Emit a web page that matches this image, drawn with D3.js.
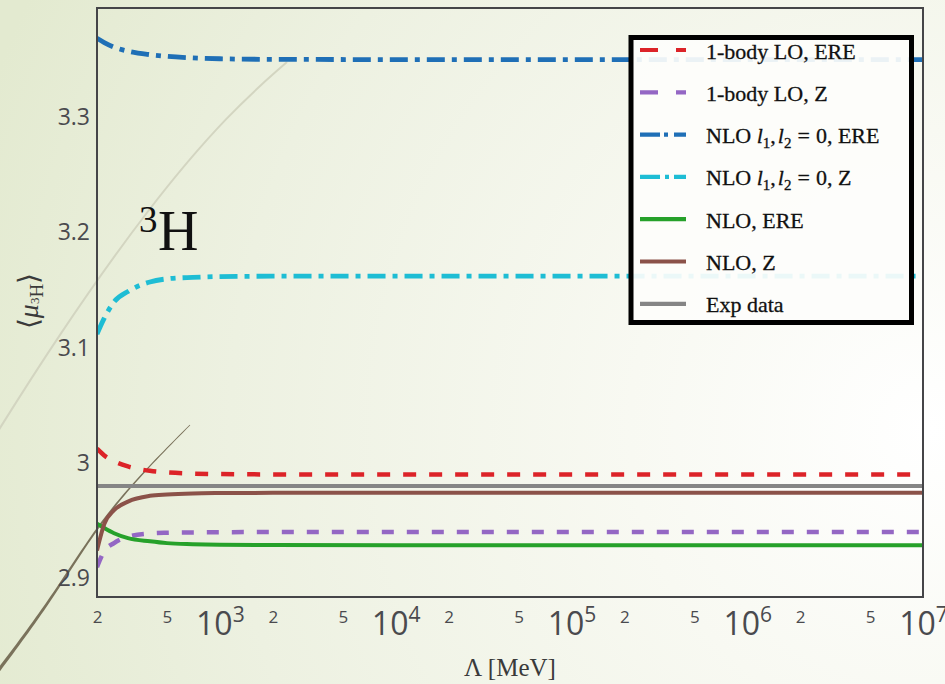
<!DOCTYPE html>
<html>
<head>
<meta charset="utf-8">
<script src="https://cdn.jsdelivr.net/npm/d3@7"></script>
<style>
  html, body { margin: 0; padding: 0; background: #f4f6ec; }
  svg { display: block; }
</style>
</head>
<body>
<svg id="chart" width="945" height="684"></svg>
<script>
// Cutoff values (MeV) at which each curve is sampled
const cutoffs = [200, 220, 250, 300, 400, 500, 700, 1000, 2000, 1e4, 1e5, 1e6, 1e7];

// Triton magnetic moment <mu_3H> for each approximation
const loERE    = [3.0115, 3.0055, 3.0005, 2.9960, 2.9922, 2.9908, 2.9898, 2.9894, 2.9891, 2.9890, 2.9890, 2.9890, 2.9890];
const loZ      = [2.9085, 2.9225, 2.9295, 2.9350, 2.9378, 2.9384, 2.9387, 2.9389, 2.9390, 2.9390, 2.9390, 2.9390, 2.9390];
const nloL0ERE = [3.3680, 3.3643, 3.3603, 3.3568, 3.3538, 3.3523, 3.3510, 3.3502, 3.3497, 3.3495, 3.3495, 3.3495, 3.3495];
const nloL0Z   = [3.1110, 3.1248, 3.1390, 3.1480, 3.1563, 3.1590, 3.1603, 3.1610, 3.1613, 3.1614, 3.1614, 3.1614, 3.1614];
const nloERE   = [2.9463, 2.9425, 2.9380, 2.9338, 2.9310, 2.9294, 2.9285, 2.9280, 2.9277, 2.9275, 2.9275, 2.9275, 2.9275];
const nloZ     = [2.9230, 2.9460, 2.9580, 2.9655, 2.9705, 2.9717, 2.9726, 2.9729, 2.9731, 2.9732, 2.9732, 2.9732, 2.9732];
const expData  = 2.979;

// Axis ranges and tick labels
const xDomain = [200, 1e7];
const yDomain = [2.8826, 3.3943];
const yTicks = [2.9, 3.0, 3.1, 3.2, 3.3];
const xMajorTicks = [1e3, 1e4, 1e5, 1e6, 1e7];
const xMinorTicks = [200, 500, 2e3, 5e3, 2e4, 5e4, 2e5, 5e5, 2e6, 5e6];

const seriesNames = ["1-body LO, ERE", "1-body LO, Z", "NLO l1,l2 = 0, ERE", "NLO l1,l2 = 0, Z", "NLO, ERE", "NLO, Z", "Exp data"];

const series = [
  { key: "loERE",    values: loERE,    color: "#dc2328", width: 4.5, dash: "13,13" },
  { key: "loZ",      values: loZ,      color: "#9467c4", width: 4.5, dash: "12,13" },
  { key: "nloL0ERE", values: nloL0ERE, color: "#1f6fb6", width: 4.8, dash: "18,7,5,7" },
  { key: "nloL0Z",   values: nloL0Z,   color: "#1ebdd4", width: 4.8, dash: "18,7,5,7" },
  { key: "nloERE",   values: nloERE,   color: "#26a12a", width: 4,   dash: null },
  { key: "nloZ",     values: nloZ,     color: "#8b5249", width: 4,   dash: null },
  { key: "exp",      values: cutoffs.map(() => expData), color: "#858585", width: 4, dash: null }
];

const W = 945, H = 684;
const margin = { left: 97, right: 22, top: 8, bottom: 87 };
const svg = d3.select("#chart");

// ---- slide background ----
const defs = svg.append("defs");
const bg = defs.append("radialGradient").attr("id", "bgGrad")
  .attr("gradientUnits", "userSpaceOnUse")
  .attr("cx", 930).attr("cy", 430).attr("r", 1000);
bg.append("stop").attr("offset", 0).attr("stop-color", "#ffffff");
bg.append("stop").attr("offset", 0.3).attr("stop-color", "#f8f9f2");
bg.append("stop").attr("offset", 0.7).attr("stop-color", "#edf1e1");
bg.append("stop").attr("offset", 1).attr("stop-color", "#e3ead0");
svg.append("rect").attr("width", W).attr("height", H).attr("fill", "url(#bgGrad)");

// decorative swooshes of the slide theme
const swoosh = d3.line().curve(d3.curveBasis);
svg.append("path")
  .attr("d", swoosh([[-10, 444], [55, 340], [150, 205], [230, 112], [287, 62]]))
  .attr("fill", "none").attr("stroke", "#d3d5c1").attr("stroke-width", 2);

// tapered dark stroke: build an outline by offsetting a smooth centre line
(function () {
  const ctrl = [[-8, 679], [50, 602], [100, 521], [150, 465], [190, 425]];
  const probe = svg.append("path").attr("d", swoosh(ctrl)).attr("fill", "none").attr("stroke", "none");
  const node = probe.node(), len = node.getTotalLength();
  const n = 60, left = [], right = [];
  for (let i = 0; i <= n; i++) {
    const l = len * i / n;
    const p = node.getPointAtLength(l);
    const q = node.getPointAtLength(Math.min(len, l + 1));
    const p0 = node.getPointAtLength(Math.max(0, l - 1));
    let dx = q.x - p0.x, dy = q.y - p0.y;
    const m = Math.hypot(dx, dy) || 1; dx /= m; dy /= m;
    const w = (3.4 - 2.6 * i / n) / 2;
    left.push([p.x - dy * w, p.y + dx * w]);
    right.push([p.x + dy * w, p.y - dx * w]);
  }
  probe.remove();
  svg.append("path")
    .attr("d", "M" + left.concat(right.reverse()).map(d => d.join(",")).join("L") + "Z")
    .attr("fill", "#7a725b");
})();

// ---- scales ----
const x = d3.scaleLog().domain(xDomain).range([margin.left, W - margin.right]);
const y = d3.scaleLinear().domain(yDomain).range([H - margin.bottom, margin.top]);

defs.append("clipPath").attr("id", "plotClip").append("rect")
  .attr("x", margin.left).attr("y", margin.top)
  .attr("width", W - margin.right - margin.left).attr("height", H - margin.bottom - margin.top);

// ---- curves ----
const line = d3.line()
  .x((d, i) => x(cutoffs[i]))
  .y(d => y(d))
  .curve(d3.curveMonotoneX);

const plot = svg.append("g").attr("clip-path", "url(#plotClip)");
// draw exp line first so the model curves sit on top of it
const drawOrder = [6, 0, 1, 2, 3, 4, 5];
drawOrder.forEach(k => {
  const s = series[k];
  plot.append("path")
    .datum(s.values)
    .attr("d", line)
    .attr("fill", "none")
    .attr("stroke", s.color)
    .attr("stroke-width", s.width)
    .attr("stroke-dasharray", s.dash)
    .attr("stroke-linejoin", "round");
});

// ---- frame ----
svg.append("rect")
  .attr("x", margin.left).attr("y", margin.top)
  .attr("width", W - margin.right - margin.left).attr("height", H - margin.bottom - margin.top)
  .attr("fill", "none").attr("stroke", "#454548").attr("stroke-width", 2);

// ---- y axis ----
const yAxis = svg.append("g")
  .attr("transform", `translate(${margin.left},0)`)
  .call(d3.axisLeft(y).tickValues(yTicks).tickSize(0).tickPadding(7)
    .tickFormat(d => Math.abs(d - 3) < 1e-9 ? "3" : d3.format(".1f")(d)));
yAxis.select(".domain").remove();
yAxis.selectAll("text")
  .attr("font-family", "'Open Sans', sans-serif").attr("font-size", 23)
  .attr("fill", "#4a4a4e").attr("dy", "0.36em");

// ---- x axis ----
const xAxis = svg.append("g")
  .attr("transform", `translate(0,${H - margin.bottom})`)
  .call(d3.axisBottom(x).tickValues(xMinorTicks.concat(xMajorTicks)).tickSize(0).tickFormat(""));
xAxis.select(".domain").remove();
xAxis.selectAll(".tick").each(function (d) {
  const g = d3.select(this);
  g.selectAll("text").remove();
  const exp = Math.round(Math.log10(d));
  const isMajor = Math.abs(d - Math.pow(10, exp)) < 1e-6 * d;
  if (isMajor) {
    const t = g.append("text")
      .attr("y", 38).attr("text-anchor", "middle")
      .attr("font-family", "'Open Sans', sans-serif").attr("fill", "#4a4a4e");
    t.append("tspan").attr("font-size", 32).text("10");
    t.append("tspan").attr("font-size", 21).attr("dy", -13).text(exp);
  } else {
    g.append("text")
      .attr("y", 26).attr("text-anchor", "middle")
      .attr("font-family", "'Open Sans', sans-serif").attr("font-size", 17)
      .attr("fill", "#4a4a4e")
      .text(String(Math.round(d / Math.pow(10, Math.floor(Math.log10(d))))));
  }
});

// axis titles
svg.append("text")
  .attr("x", 510).attr("y", 676).attr("text-anchor", "middle")
  .attr("font-family", "'Liberation Serif', serif").attr("font-size", 25).attr("fill", "#3a3a3a")
  .text("Λ [MeV]");

const yTitle = svg.append("text")
  .attr("transform", "translate(38,301) rotate(-90)")
  .attr("text-anchor", "middle")
  .attr("font-family", "'Liberation Serif', serif").attr("font-size", 28).attr("fill", "#3a3a3a");
yTitle.append("tspan").text("⟨");
yTitle.append("tspan").attr("font-style", "italic").text("μ");
yTitle.append("tspan").attr("font-size", 13).attr("dy", 1).text("3");
yTitle.append("tspan").attr("font-size", 19).attr("dy", 4).text("H");
yTitle.append("tspan").attr("dy", -5).text("⟩");

// nucleus annotation
svg.append("text")
  .attr("x", 139).attr("y", 232)
  .attr("font-family", "'Liberation Serif', serif").attr("font-size", 37).attr("fill", "#111")
  .text("3");
svg.append("text")
  .attr("x", 158).attr("y", 250)
  .attr("font-family", "'Liberation Serif', serif").attr("font-size", 56).attr("fill", "#111")
  .text("H");

// ---- legend ----
const legend = svg.append("g");
legend.append("rect")
  .attr("x", 631).attr("y", 37.5).attr("width", 280.5).attr("height", 285)
  .attr("fill", "#fdfdfb").attr("fill-opacity", 0.92)
  .attr("stroke", "#000").attr("stroke-width", 5);

const legendDash = ["18,18", "18,18", "20,4,4,6", "20,5,4,5", null, null, null];
series.forEach((s, i) => {
  const cy = 50 + i * 42.3;
  legend.append("line")
    .attr("x1", 640).attr("x2", 686).attr("y1", cy).attr("y2", cy)
    .attr("stroke", s.color).attr("stroke-width", 4.2)
    .attr("stroke-dasharray", legendDash[i]);
  const t = legend.append("text")
    .attr("x", 706).attr("y", cy + 8.5)
    .attr("font-family", "'Liberation Serif', serif").attr("font-size", 22).attr("fill", "#111")
    .attr("stroke", "#111").attr("stroke-width", 0.3);
  const name = seriesNames[i];
  if (name.startsWith("NLO l1")) {
    t.append("tspan").text("NLO ");
    t.append("tspan").attr("font-style", "italic").text("l");
    t.append("tspan").attr("font-size", 15).attr("dy", 5).text("1");
    t.append("tspan").attr("dy", -5).text(",");
    t.append("tspan").attr("font-style", "italic").attr("dx", 2).text("l");
    t.append("tspan").attr("font-size", 15).attr("dy", 5).text("2");
    t.append("tspan").attr("dy", -5).attr("dx", 6).text("=");
    t.append("tspan").attr("dx", 6).text(name.slice(name.indexOf("0")));
  } else {
    t.text(name);
  }
});
</script>
</body>
</html>
